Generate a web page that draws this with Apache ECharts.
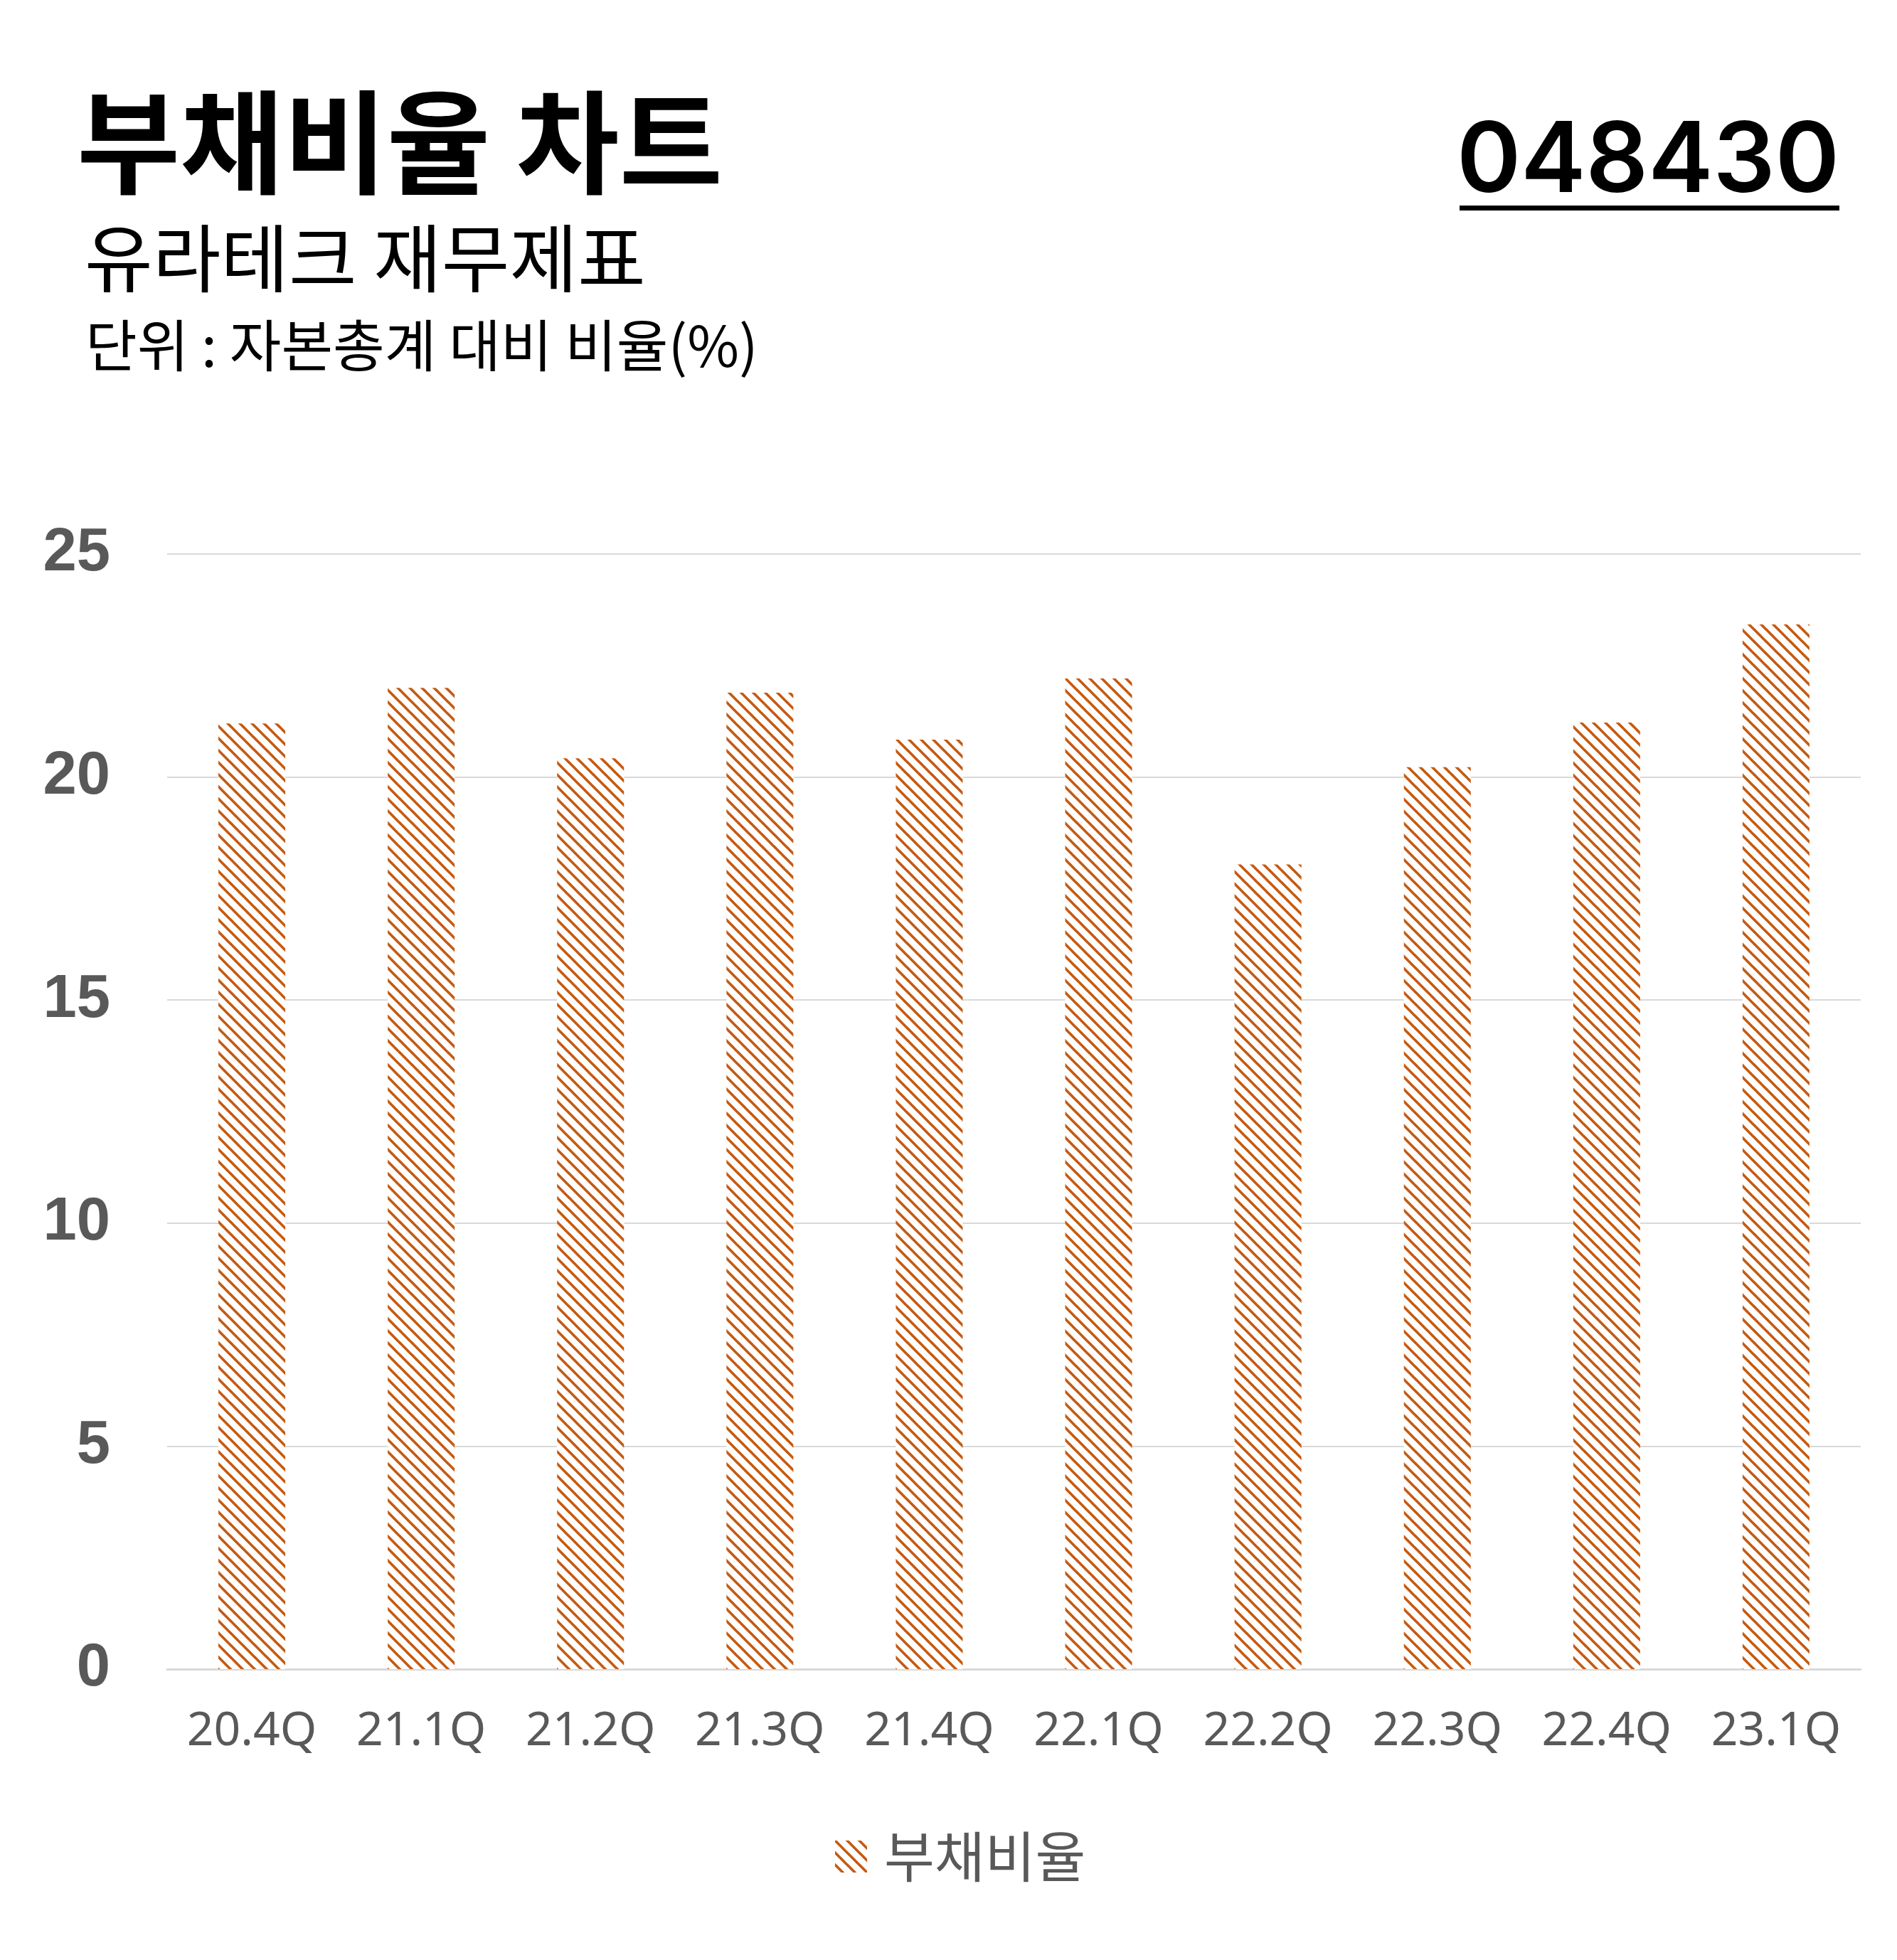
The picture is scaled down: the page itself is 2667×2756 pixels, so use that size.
<!DOCTYPE html>
<html>
<head>
<meta charset="utf-8">
<style>
html,body{margin:0;padding:0;background:#fff;}
#chart{width:2667px;height:2756px;}
</style>
<script src="https://cdn.jsdelivr.net/npm/echarts@6/dist/echarts.min.js"></script>
</head>
<body>
<div id="chart"></div>
<script>
const categories = ['20.4Q','21.1Q','21.2Q','21.3Q','21.4Q','22.1Q','22.2Q','22.3Q','22.4Q','23.1Q'];
const debtRatio = [21.2, 22.0, 20.42, 21.89, 20.84, 22.21, 18.04, 20.22, 21.22, 23.42];
const seriesName = '부채비율';
const titleText = '부채비율 차트';
const subtitleText = '유라테크 재무제표';
const unitText = '단위 : 자본총계 대비 비율(%)';
const codeText = '048430';

function makePattern(color) {
  const s = 17;
  const c = document.createElement('canvas');
  c.width = s; c.height = s;
  const ctx = c.getContext('2d');
  ctx.fillStyle = '#ffffff';
  ctx.fillRect(0, 0, s, s);
  ctx.strokeStyle = color;
  ctx.lineWidth = 3.7;
  ctx.lineCap = 'square';
  for (const k of [-s, 0, s]) {
    ctx.beginPath();
    ctx.moveTo(k, 0);
    ctx.lineTo(k + s, s);
    ctx.stroke();
  }
  return c;
}

const chart = echarts.init(document.getElementById('chart'), null, {renderer: 'canvas'});
const pattern = {image: makePattern('#C55A11'), repeat: 'repeat'};

const option = {
  backgroundColor: '#ffffff',
  animation: false,
  graphic: [
    {type: 'text', x: 108, y: 200, style: {text: titleText, fill: '#000', font: 'bold 158px "Noto Sans CJK KR"', textAlign: 'left', textVerticalAlign: 'middle'}},
    {type: 'text', x: 119, y: 363, style: {text: subtitleText, fill: '#000', font: '104px "Noto Sans CJK KR"', textAlign: 'left', textVerticalAlign: 'middle'}},
    {type: 'text', x: 120, y: 486, style: {text: unitText, fill: '#000', font: '79px "Noto Sans CJK KR"', textAlign: 'left', textVerticalAlign: 'middle'}},
    {type: 'text', x: 2586, y: 229, style: {text: codeText, fill: '#000', font: '600 137px Inter', textAlign: 'right', textVerticalAlign: 'middle'}},
    {type: 'rect', shape: {x: 2052, y: 289, width: 534, height: 7}, style: {fill: '#000'}}
  ],
  legend: {
    data: [seriesName],
    left: 1169,
    top: 2567,
    itemWidth: 45,
    itemHeight: 45,
    icon: 'rect',
    textStyle: {fontSize: 77, color: '#595959', fontFamily: '"Noto Sans CJK KR"', padding: [0, 0, 0, 19]}
  },
  grid: {left: 235, right: 51, top: 779, bottom: 409, containLabel: false},
  xAxis: {
    type: 'category',
    data: categories,
    axisLine: {show: true, lineStyle: {color: '#D9D9D9', width: 3}},
    axisTick: {show: false},
    axisLabel: {fontSize: 66, color: '#595959', fontFamily: '"Noto Sans", sans-serif', margin: 55, interval: 0}
  },
  yAxis: {
    type: 'value',
    min: 0, max: 25, interval: 5,
    axisLine: {show: false},
    axisTick: {show: false},
    splitLine: {lineStyle: {color: '#D9D9D9', width: 2}},
    axisLabel: {fontSize: 85, fontWeight: 'bold', color: '#595959', fontFamily: '"Liberation Sans", Arial, sans-serif', margin: 80}
  },
  series: [{
    name: seriesName,
    type: 'bar',
    data: debtRatio,
    barWidth: 94,
    itemStyle: {color: pattern}
  }]
};
chart.setOption(option);
</script>
</body>
</html>
